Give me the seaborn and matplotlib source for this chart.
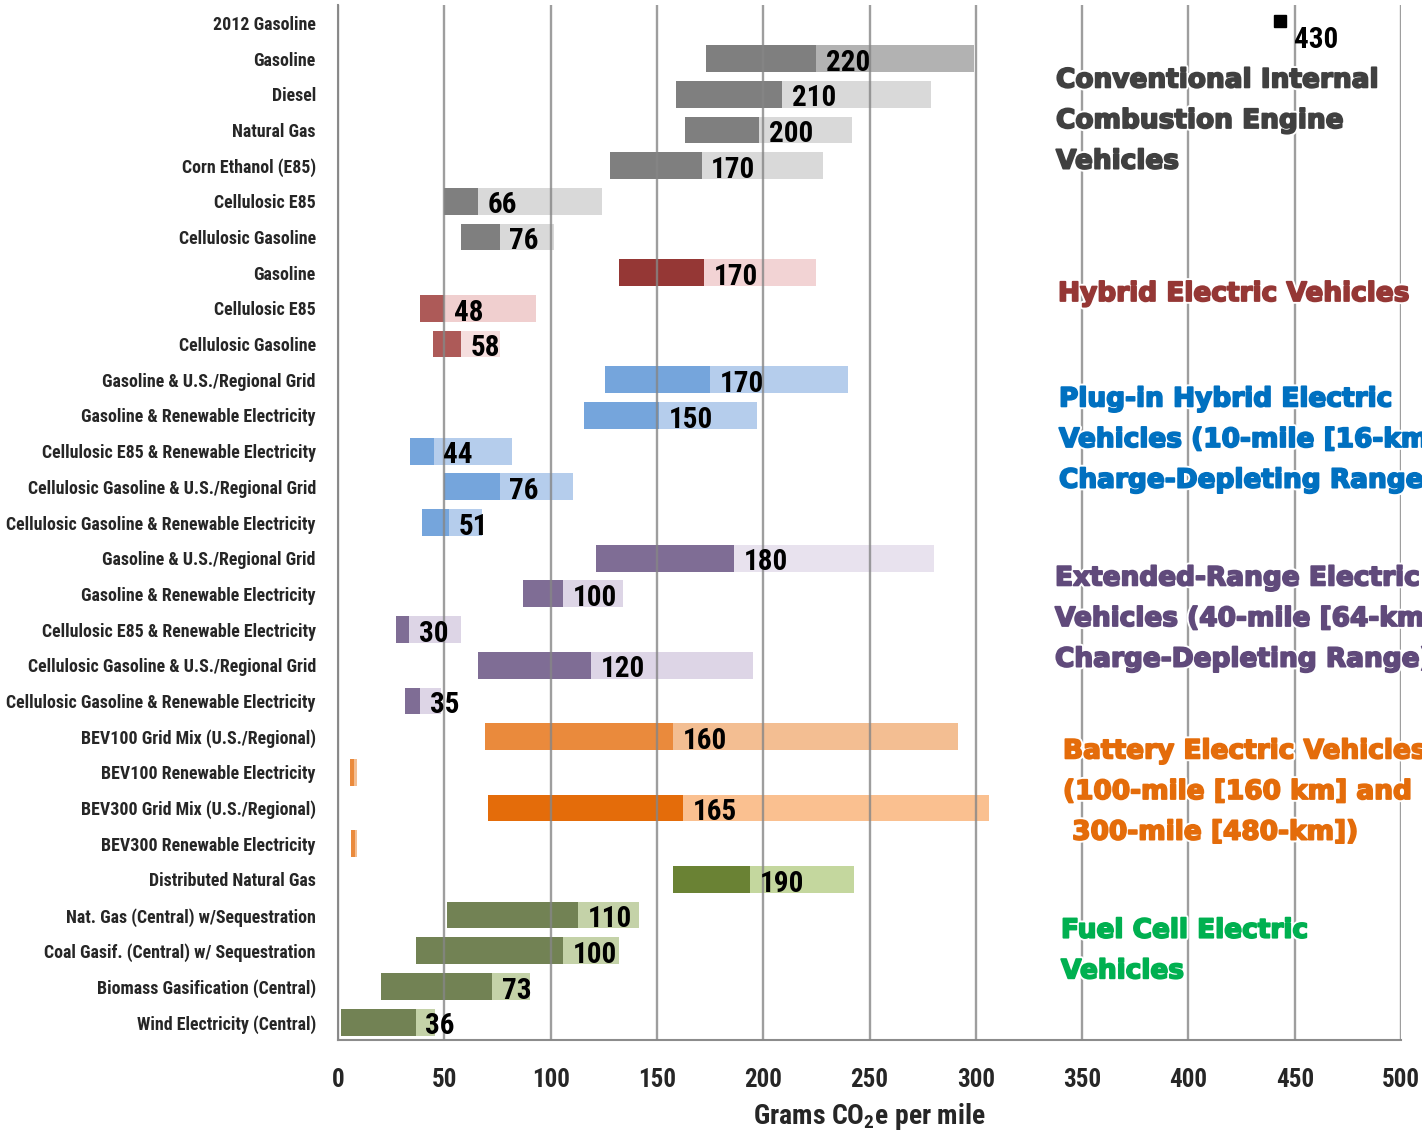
import matplotlib
matplotlib.use("Agg")
import matplotlib.pyplot as plt
import matplotlib.patheffects as pe
from matplotlib import font_manager
import numpy as np
import pandas as pd
import seaborn as sns

# rows, top to bottom
labels = ["2012 Gasoline", "Gasoline", "Diesel", "Natural Gas", "Corn Ethanol (E85)",
          "Cellulosic E85", "Cellulosic Gasoline",
          "Gasoline", "Cellulosic E85", "Cellulosic Gasoline",
          "Gasoline & U.S./Regional Grid", "Gasoline & Renewable Electricity",
          "Cellulosic E85 & Renewable Electricity", "Cellulosic Gasoline & U.S./Regional Grid",
          "Cellulosic Gasoline & Renewable Electricity",
          "Gasoline & U.S./Regional Grid", "Gasoline & Renewable Electricity",
          "Cellulosic E85 & Renewable Electricity", "Cellulosic Gasoline & U.S./Regional Grid",
          "Cellulosic Gasoline & Renewable Electricity",
          "BEV100 Grid Mix (U.S./Regional)", "BEV100 Renewable Electricity",
          "BEV300 Grid Mix (U.S./Regional)", "BEV300 Renewable Electricity",
          "Distributed Natural Gas", "Nat. Gas (Central) w/Sequestration",
          "Coal Gasif. (Central) w/ Sequestration", "Biomass Gasification (Central)",
          "Wind Electricity (Central)"]

low = [None, 173, 159, 163, 128, 50, 58,
       132, 38.5, 44.5,
       125.5, 115.5, 34, 50, 39.5,
       121.5, 87, 27.5, 66, 31.5,
       69, 5.5, 70.5, 6,
       157.5, 51.5, 36.5, 20, 1.5]
mid = [None, 225, 209, 198, 171, 66, 76,
       172, 50, 58,
       175, 151, 45, 76, 52,
       186.5, 106, 33.5, 119, 38.5,
       157.5, 7.5, 162.5, 8,
       194, 113, 106, 72.5, 36.5]
high = [None, 299, 279, 242, 228, 124, 101.5,
        225, 93, 76,
        240, 197, 82, 110.5, 67.5,
        280.5, 134, 58, 195, 48.5,
        291.5, 9, 306, 9,
        242.5, 141.5, 132, 90.5, 45.5]
value_text = [None, "220", "210", "200", "170", "66", "76",
              "170", "48", "58",
              "170", "150", "44", "76", "51",
              "180", "100", "30", "120", "35",
              "160", None, "165", None,
              "190", "110", "100", "73", "36"]

point_x = [443]
point_text = ["430"]

dark_colors = ["#ffffff", "#7f7f7f", "#7f7f7f", "#7f7f7f", "#7f7f7f", "#7f7f7f", "#7f7f7f",
               "#953735", "#ad5a58", "#ad5a58",
               "#75a5dc", "#75a5dc", "#75a5dc", "#75a5dc", "#75a5dc",
               "#7f6d95", "#7f6d95", "#7f6d95", "#7f6d95", "#7f6d95",
               "#ea8a3c", "#ea8a3c", "#e46c0a", "#ea8a3c",
               "#6a8234", "#728254", "#728254", "#728254", "#728254"]
light_colors = ["#ffffff", "#b2b2b2", "#d9d9d9", "#d9d9d9", "#d9d9d9", "#d9d9d9", "#d9d9d9",
                "#f2d3d4", "#f0cfcf", "#f5dede",
                "#b5cdec", "#b5cdec", "#b5cdec", "#b5cdec", "#b5cdec",
                "#e8e2ee", "#ddd5e6", "#ddd5e6", "#ddd5e6", "#ddd5e6",
                "#f3be92", "#f3be92", "#fac090", "#f3be92",
                "#c4d79e", "#c4d2a8", "#c4d2a8", "#c4d2a8", "#c4d2a8"]

groups = ["Conventional Internal\nCombustion Engine\nVehicles",
          "Hybrid Electric Vehicles",
          "Plug-in Hybrid Electric\nVehicles (10-mile [16-km]\nCharge-Depleting Range)",
          "Extended-Range Electric\nVehicles (40-mile [64-km]\nCharge-Depleting Range)",
          "Battery Electric Vehicles\n(100-mile [160 km] and\n 300-mile [480-km])",
          "Fuel Cell Electric\nVehicles"]
group_colors = ["#404040", "#953735", "#0070c0", "#604a7b", "#e46c0a", "#00b050"]
group_pos = [(1056, 121), (1058, 294), (1059, 440), (1055, 619), (1063, 792), (1061, 951)]

installed = {f.name for f in font_manager.fontManager.ttflist}
narrow = "DejaVu Sans"
for cand in ["Liberation Sans Narrow", "DejaVu Sans Condensed", "Roboto Condensed",
             "Open Sans Condensed", "Noto Sans Condensed"]:
    if cand in installed:
        narrow = cand
        break

sns.set_theme(style="white")
plt.rcParams["font.family"] = [narrow, "DejaVu Sans"]
plt.rcParams["font.stretch"] = "condensed"

df = pd.DataFrame({"row": [f"r{i}" for i in range(len(labels))],
                   "low": low, "mid": mid, "high": high}).astype({"low": float, "mid": float, "high": float})
df = df.fillna(0)
df["dark_w"] = df["mid"] - df["low"]
df["light_w"] = df["high"] - df["mid"]

fig = plt.figure(figsize=(14.22, 11.34), dpi=100)
ax = fig.add_axes([338 / 1422, 1 - 1040 / 1134, 1063 / 1422, 1035 / 1134])

sns.barplot(data=df, x="dark_w", y="row", orient="y", left=df["low"].values,
            width=0.75, color="#7f7f7f", ax=ax, zorder=2)
sns.barplot(data=df, x="light_w", y="row", orient="y", left=df["mid"].values,
            width=0.75, color="#d9d9d9", ax=ax, zorder=2)
n = len(labels)
for p, c in zip(ax.patches, dark_colors + light_colors):
    p.set_facecolor(c)
    p.set_edgecolor("none")

ax.set_xlim(0, 500)
ax.set_ylim(n - 0.5, -0.5)
ax.set_xticks(np.arange(0, 501, 50))
ax.grid(axis="x", color="#868686", lw=1.7, alpha=0.8, zorder=3)
ax.grid(axis="y", visible=False)
ax.set_axisbelow(False)

ax.set_yticks(range(n))
ax.set_yticklabels(labels, fontsize=12.9, fontweight="bold")
ax.set_yticks(np.arange(-0.5, n, 1), minor=True)
ax.tick_params(axis="y", which="major", length=0, pad=16)
ax.tick_params(axis="y", which="minor", length=6, width=1.2, color="#8c8c8c", direction="out")
ax.tick_params(axis="x", length=8, width=1.2, color="#8c8c8c", direction="out",
               labelsize=18, pad=12)
for t in ax.get_xticklabels():
    t.set_fontweight("bold")
ax.set_ylabel("")
ax.set_xlabel("Grams CO$_\\mathregular{2}$e per mile", fontsize=20, fontweight="bold", labelpad=7)

for s in ["top", "right"]:
    ax.spines[s].set_visible(False)
for s in ["left", "bottom"]:
    ax.spines[s].set_color("#8c8c8c")
    ax.spines[s].set_linewidth(1.5)

for i, t in enumerate(value_text):
    if t:
        ax.annotate(t, (mid[i], i), xytext=(7, -3), textcoords="offset points",
                    ha="left", va="center", fontsize=21, fontweight="bold", color="black", zorder=4)

ax.plot(point_x, [-0.05], marker="s", ms=8, color="black", ls="none", zorder=4)
ax.annotate(point_text[0], (point_x[0], 0), xytext=(10, -12), textcoords="offset points",
            ha="left", va="center", fontsize=21, fontweight="bold", color="black")

for g, c, (gx, gy) in zip(groups, group_colors, group_pos):
    fig.text(gx / 1422, 1 - gy / 1134, g, color=c, fontsize=19, fontweight="bold",
             family="DejaVu Sans", stretch="normal", ha="left", va="center", linespacing=1.73,
             path_effects=[pe.Stroke(linewidth=4, foreground="white"),
                           pe.Stroke(linewidth=1.3, foreground=c), pe.Normal()])

fig.savefig("out.png", dpi=100)
